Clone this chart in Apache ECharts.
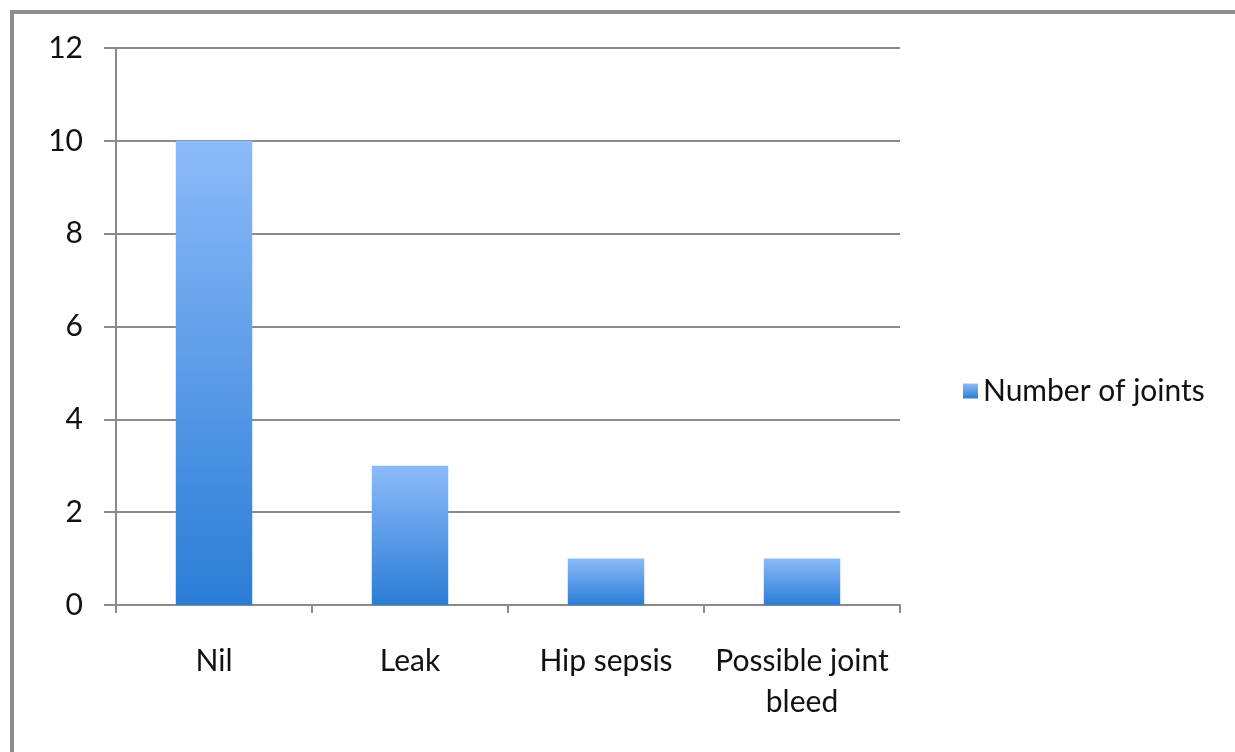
<!DOCTYPE html>
<html>
<head>
<meta charset="utf-8">
<script src="https://cdn.jsdelivr.net/npm/echarts@6/dist/echarts.min.js"></script>
<style>
  html, body { margin: 0; padding: 0; background: #ffffff; }
  #chart { width: 1235px; height: 752px; }
</style>
</head>
<body>
<div id="chart"></div>
<script>
// Complications per joint
const categories = ['Nil', 'Leak', 'Hip sepsis', 'Possible joint\nbleed'];
const jointCounts = [10, 3, 1, 1];
const seriesName = 'Number of joints';
const yTicks = { min: 0, max: 12, interval: 2 };

const FONT = 'Lato, "Open Sans", sans-serif';
const FONT_SIZE = 30;
const TEXT_COLOR = '#111111';
const gridColor = '#8a8a8a';

const chart = echarts.init(document.getElementById('chart'), null, { renderer: 'canvas' });

const barFill = new echarts.graphic.LinearGradient(0, 0, 0, 1, [
  { offset: 0, color: '#8cbaf9' },
  { offset: 1, color: '#2a7dd6' }
]);

chart.setOption({
  backgroundColor: '#ffffff',
  animation: false,
  graphic: [
    // frame edges along the top and left
    { type: 'line', shape: { x1: 10, y1: 12, x2: 1235, y2: 12 }, style: { stroke: '#8c8c8c', lineWidth: 4 } },
    { type: 'line', shape: { x1: 12, y1: 10, x2: 12, y2: 752 }, style: { stroke: '#8c8c8c', lineWidth: 4 } }
  ],
  grid: { left: 116, right: 335, top: 48, bottom: 147, containLabel: false },
  legend: {
    data: [seriesName],
    orient: 'vertical',
    left: 958,
    top: 371,
    itemWidth: 15,
    itemHeight: 15,
    icon: 'rect',
    textStyle: { fontFamily: FONT, fontSize: FONT_SIZE, color: TEXT_COLOR }
  },
  xAxis: {
    type: 'category',
    data: categories,
    axisLine: { lineStyle: { color: gridColor, width: 2 } },
    axisTick: { show: true, length: 8, alignWithLabel: false, lineStyle: { color: gridColor, width: 2 } },
    axisLabel: {
      interval: 0,
      margin: 36,
      fontFamily: FONT,
      fontSize: FONT_SIZE,
      lineHeight: 41,
      color: TEXT_COLOR
    }
  },
  yAxis: {
    type: 'value',
    min: yTicks.min,
    max: yTicks.max,
    interval: yTicks.interval,
    axisLine: { show: true, lineStyle: { color: gridColor, width: 2 } },
    axisTick: { show: true, length: 12, lineStyle: { color: gridColor, width: 2 } },
    splitLine: { show: true, lineStyle: { color: gridColor, width: 2 } },
    axisLabel: {
      margin: 33,
      fontFamily: FONT,
      fontSize: FONT_SIZE,
      color: TEXT_COLOR
    }
  },
  series: [{
    name: seriesName,
    type: 'bar',
    data: jointCounts,
    barWidth: '39%',
    itemStyle: { color: barFill }
  }]
});
</script>
</body>
</html>
